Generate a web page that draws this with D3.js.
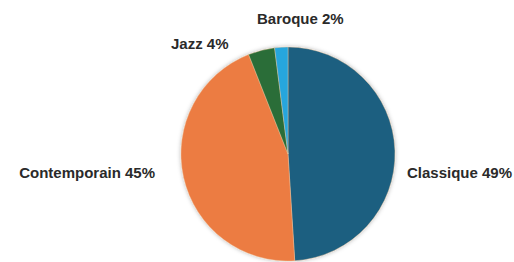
<!DOCTYPE html>
<html>
<head>
<meta charset="utf-8">
<script src="https://cdn.jsdelivr.net/npm/d3@7"></script>
<style>
  html, body { margin: 0; padding: 0; background: #fff; }
  svg { display: block; }
  .lbl { font-family: "Liberation Sans", Arial, sans-serif; font-weight: bold; font-size: 15px; fill: #2a2a2a; }
</style>
</head>
<body>
<div id="chartEl"></div>
<script>
const categories = ['Classique', 'Contemporain', 'Jazz', 'Baroque'];
const values = [49, 45, 4, 2];
const colors = ['#1c5f80', '#ec7b43', '#2a6d37', '#28a6dd'];

// label anchors (layout only)
const labelLayout = [
  {x: 407, y: 178, anchor: 'start'},
  {x: 155, y: 178, anchor: 'end'},
  {x: 171, y: 49, anchor: 'start'},
  {x: 257, y: 24, anchor: 'start'}
];

const width = 514;
const height = 262;
const cx = 288, cy = 154, radius = 107;

const data = categories.map((c, i) => ({name: c, value: values[i], color: colors[i]}));

const svg = d3.select('#chartEl').append('svg')
  .attr('width', width)
  .attr('height', height);

const defs = svg.append('defs');
const f = defs.append('filter').attr('id', 'shadow')
  .attr('x', '-10%').attr('y', '-10%').attr('width', '120%').attr('height', '120%');
f.append('feDropShadow')
  .attr('dx', 0).attr('dy', 0)
  .attr('stdDeviation', 2)
  .attr('flood-color', '#000')
  .attr('flood-opacity', 0.3);

const pie = d3.pie().sort(null).value(d => d.value);
const arc = d3.arc().innerRadius(0).outerRadius(radius);

const g = svg.append('g')
  .attr('transform', 'translate(' + cx + ',' + cy + ')')
  .attr('filter', 'url(#shadow)');

g.selectAll('path')
  .data(pie(data))
  .enter().append('path')
  .attr('d', arc)
  .attr('fill', d => d.data.color)
  .attr('stroke', '#f3c9a0')
  .attr('stroke-width', 0.4);

svg.selectAll('.lbl')
  .data(data)
  .enter().append('text')
  .attr('class', 'lbl')
  .attr('x', (d, i) => labelLayout[i].x)
  .attr('y', (d, i) => labelLayout[i].y)
  .attr('text-anchor', (d, i) => labelLayout[i].anchor)
  .text(d => d.name + ' ' + d.value + '%');
</script>
</body>
</html>
